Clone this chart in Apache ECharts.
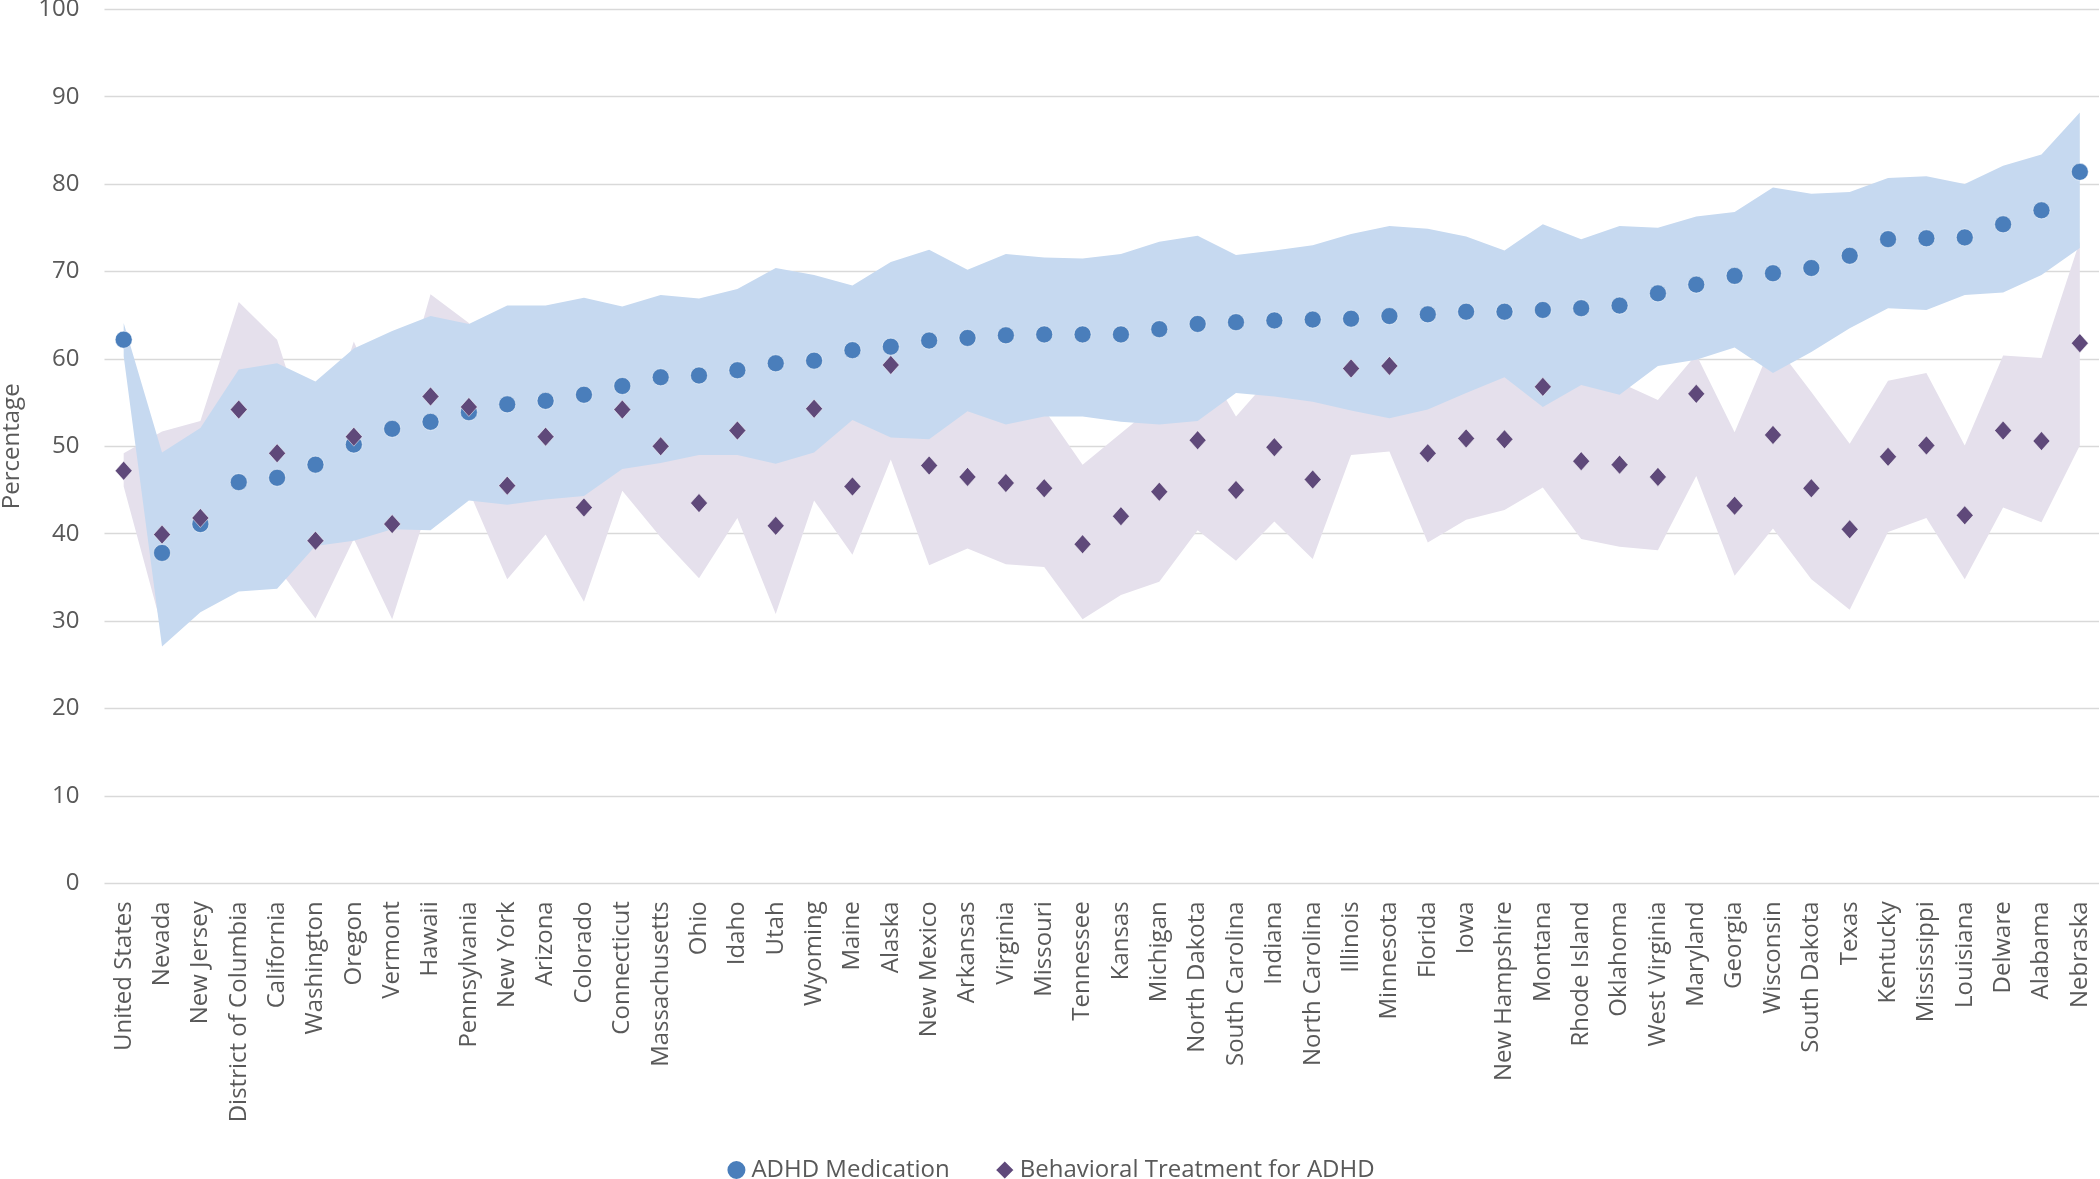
<!DOCTYPE html>
<html>
<head>
<meta charset="utf-8">
<script src="https://cdn.jsdelivr.net/npm/echarts@6/dist/echarts.min.js"></script>
<style>
html,body{margin:0;padding:0;background:#fff;}
#chart{width:2100px;height:1179px;}
</style>
</head>
<body>
<div id="chart"></div>
<script>
var categories = ["United States","Nevada","New Jersey","District of Columbia","California","Washington","Oregon","Vermont","Hawaii","Pennsylvania","New York","Arizona","Colorado","Connecticut","Massachusetts","Ohio","Idaho","Utah","Wyoming","Maine","Alaska","New Mexico","Arkansas","Virginia","Missouri","Tennessee","Kansas","Michigan","North Dakota","South Carolina","Indiana","North Carolina","Illinois","Minnesota","Florida","Iowa","New Hampshire","Montana","Rhode Island","Oklahoma","West Virginia","Maryland","Georgia","Wisconsin","South Dakota","Texas","Kentucky","Mississippi","Louisiana","Delware","Alabama","Nebraska"];

var medication = [62.2,37.8,41.1,45.9,46.4,47.9,50.2,52.0,52.8,53.9,54.8,55.2,55.9,56.9,57.9,58.1,58.7,59.5,59.8,61.0,61.4,62.1,62.4,62.7,62.8,62.8,62.8,63.4,64.0,64.2,64.4,64.5,64.6,64.9,65.1,65.4,65.4,65.6,65.8,66.1,67.5,68.5,69.5,69.8,70.4,71.8,73.7,73.8,73.9,75.4,77.0,81.4];
var medicationUpper = [64.1,49.3,52.1,58.8,59.5,57.4,61.2,63.2,64.9,64.0,66.1,66.1,67.0,66.0,67.3,66.9,68.0,70.4,69.6,68.4,71.1,72.5,70.2,72.0,71.6,71.5,72.0,73.4,74.1,71.9,72.4,73.0,74.3,75.2,74.9,74.0,72.4,75.4,73.7,75.2,75.0,76.3,76.8,79.6,78.9,79.1,80.7,80.9,80.0,82.1,83.4,88.2];
var medicationLower = [60.3,27.1,31.0,33.4,33.7,38.6,39.2,40.5,40.4,43.8,43.3,43.9,44.3,47.4,48.1,49.0,49.0,48.0,49.3,53.0,51.0,50.8,54.0,52.5,53.4,53.4,52.8,52.5,52.9,56.1,55.7,55.1,54.1,53.2,54.2,56.1,57.9,54.5,57.0,55.9,59.2,59.9,61.3,58.4,60.8,63.5,65.8,65.6,67.3,67.6,69.6,72.7];

var behavioral = [47.2,39.9,41.8,54.2,49.2,39.2,51.1,41.1,55.7,54.5,45.5,51.1,43.0,54.2,50.0,43.5,51.8,40.9,54.3,45.4,59.3,47.8,46.5,45.8,45.2,38.8,42.0,44.8,50.7,45.0,49.9,46.2,58.9,59.2,49.2,50.9,50.8,56.8,48.3,47.9,46.5,56.0,43.2,51.3,45.2,40.5,48.8,50.1,42.1,51.8,50.6,61.8];
var behavioralUpper = [49.2,51.7,52.9,66.5,62.2,48.5,62.0,52.0,67.4,64.1,56.0,62.0,53.8,63.5,60.4,52.1,61.8,51.0,64.8,53.2,70.1,59.2,54.7,55.1,54.2,47.9,51.5,55.1,61.0,53.4,58.4,55.3,68.8,69.0,59.4,60.2,58.9,68.3,57.2,57.3,55.3,60.5,51.6,62.0,56.2,50.3,57.5,58.4,50.1,60.4,60.1,73.5];
var behavioralLower = [45.4,29.2,31.5,41.9,36.2,30.3,39.4,30.2,44.0,44.9,34.8,39.9,32.2,44.9,39.6,34.9,41.8,30.8,43.8,37.6,48.5,36.4,38.3,36.5,36.2,30.2,33.0,34.5,40.4,36.9,41.4,37.1,49.0,49.4,39.0,41.6,42.7,45.3,39.4,38.5,38.1,46.6,35.2,40.6,34.8,31.3,40.2,41.8,34.8,43.0,41.3,50.1];

var yTicks = {min: 0, max: 100, interval: 10};

function diff(u, l) { return u.map(function (v, i) { return +(v - l[i]).toFixed(2); }); }

var FONT = "'Open Sans', sans-serif";
var TXT = '#595959';

var chart = echarts.init(document.getElementById('chart'), null, {renderer: 'canvas'});
chart.setOption({
  animation: false,
  backgroundColor: '#ffffff',
  textStyle: {fontFamily: FONT},
  grid: {left: 104.5, right: 1, top: 9.3, bottom: 295.7, containLabel: false, outerBoundsMode: 'none'},
  legend: {
    data: [
      {name: 'ADHD Medication', icon: 'circle'},
      {name: 'Behavioral Treatment for ADHD', icon: 'diamond'}
    ],
    left: 'center',
    top: 1153,
    itemWidth: 20,
    itemHeight: 20,
    itemGap: 44,
    textStyle: {color: TXT, fontSize: 24, fontFamily: FONT}
  },
  xAxis: {
    type: 'category',
    data: categories,
    boundaryGap: true,
    axisLine: {show: false},
    axisTick: {show: false},
    axisLabel: {interval: 0, rotate: 90, margin: 18, color: TXT, fontSize: 24, fontFamily: FONT}
  },
  yAxis: {
    type: 'value',
    min: yTicks.min, max: yTicks.max, interval: yTicks.interval,
    name: 'Percentage',
    nameLocation: 'middle',
    nameRotate: 90,
    nameGap: 80,
    nameTextStyle: {color: TXT, fontSize: 24, fontFamily: FONT},
    axisLine: {show: false},
    axisTick: {show: false},
    axisLabel: {margin: 25, color: TXT, fontSize: 24, fontFamily: FONT},
    splitLine: {lineStyle: {color: '#d9d9d9', width: 1.3}}
  },
  series: [
    {name: 'behBase', type: 'line', stack: 'beh', data: behavioralLower, symbol: 'none', silent: true, z: 1,
     lineStyle: {width: 0, opacity: 0}},
    {name: 'behBand', type: 'line', stack: 'beh', data: diff(behavioralUpper, behavioralLower), symbol: 'none', silent: true, z: 1,
     lineStyle: {width: 0, opacity: 0}, areaStyle: {color: '#e5e0ec', opacity: 1}},
    {name: 'medBase', type: 'line', stack: 'med', data: medicationLower, symbol: 'none', silent: true, z: 2,
     lineStyle: {width: 0, opacity: 0}},
    {name: 'medBand', type: 'line', stack: 'med', data: diff(medicationUpper, medicationLower), symbol: 'none', silent: true, z: 2,
     lineStyle: {width: 0, opacity: 0}, areaStyle: {color: '#c6d9f0', opacity: 1}},
    {name: 'ADHD Medication', type: 'scatter', data: medication, symbol: 'circle', symbolSize: 17, z: 5,
     itemStyle: {color: '#4a7ebb', opacity: 1, borderColor: '#ffffff', borderWidth: 0.5}},
    {name: 'Behavioral Treatment for ADHD', type: 'scatter', data: behavioral, symbol: 'diamond', symbolSize: [17, 19], z: 6,
     itemStyle: {color: '#5f497a', opacity: 1, borderColor: '#ffffff', borderWidth: 0.5}}
  ]
});
</script>
</body>
</html>
